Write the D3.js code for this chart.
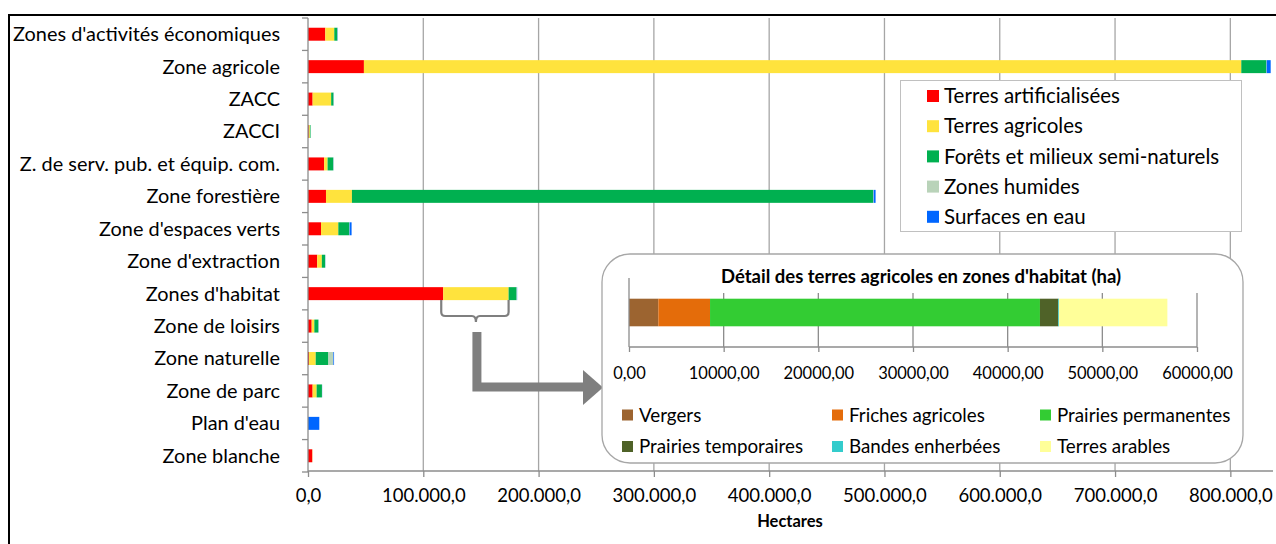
<!DOCTYPE html>
<html><head><meta charset="utf-8">
<script src="https://cdn.jsdelivr.net/npm/d3@7"></script>
<style>body{margin:0;background:#fff}svg{display:block}text{font-family:Lato,"Noto Sans",sans-serif}</style>
</head><body><svg id="c" width="1276" height="544"></svg>
<script>
const categories = ["Zones d'activités économiques","Zone agricole","ZACC","ZACCI","Z. de serv. pub. et équip. com.","Zone forestière","Zone d'espaces verts","Zone d'extraction","Zones d'habitat","Zone de loisirs","Zone naturelle","Zone de parc","Plan d'eau","Zone blanche"];
const seriesNames = ["Terres artificialisées","Terres agricoles","Forêts et milieux semi-naturels","Zones humides","Surfaces en eau"];
const terresArtificialisees = [15000,48500,4000,700,14000,15600,11300,8000,117300,3200,900,4000,0,3700];
const terresAgricoles = [7800,761000,16100,900,3000,22500,15000,4000,56700,2300,5800,3500,0,200];
const forets = [2600,21700,2000,600,4900,452000,9500,2900,6900,3500,11000,4600,0,0];
const zonesHumides = [300,300,200,0,200,500,300,0,300,0,4300,100,0,0];
const surfacesEau = [200,3500,100,0,100,1700,1700,100,200,100,600,100,9800,0];
const seriesColors = ["#ff0000","#ffe33d","#00b050","#b9d3b9","#0066ff"];
const xTicks = [0,100000,200000,300000,400000,500000,600000,700000,800000];
const xTickLabels = ["0,0","100.000,0","200.000,0","300.000,0","400.000,0","500.000,0","600.000,0","700.000,0","800.000,0"];

const insetNames = ["Vergers","Friches agricoles","Prairies permanentes","Prairies temporaires","Bandes enherbées","Terres arables"];
const insetValues = [3100,5460,34850,1940,80,11440];
const insetColors = ["#9c6430","#e46c0a","#33cc33","#4f6228","#33cccc","#ffff99"];
const insetTicks = [0,10000,20000,30000,40000,50000,60000];
const insetTickLabels = ["0,00","10000,00","20000,00","30000,00","40000,00","50000,00","60000,00"];

const svg = d3.select("#c");
const seriesVals = [terresArtificialisees,terresAgricoles,forets,zonesHumides,surfacesEau];

const x = d3.scaleLinear().domain([0,837000]).range([308,1273]);
const y = d3.scaleBand().domain(categories).range([18,472]).paddingInner(0.6).paddingOuter(0.3);

// border
svg.append("path").attr("d","M9,544V15H1276").attr("fill","none").attr("stroke","#000").attr("stroke-width",2);

// gridlines
svg.append("g").selectAll("line").data(xTicks.slice(1)).join("line")
  .attr("x1",d=>x(d)).attr("x2",d=>x(d)).attr("y1",18).attr("y2",471)
  .attr("stroke","#a6a6a6").attr("stroke-width",1.3);

// bars
const rows = categories.map((c,i)=>{const o={cat:c}; seriesNames.forEach((s,j)=>o[s]=seriesVals[j][i]); return o;});
const stack = d3.stack().keys(seriesNames)(rows);
svg.append("g").selectAll("g").data(stack).join("g").attr("fill",(d,i)=>seriesColors[i])
  .selectAll("rect").data(d=>d).join("rect")
  .attr("x",d=>x(d[0])).attr("width",d=>Math.max(0,x(d[1])-x(d[0])))
  .attr("y",d=>y(d.data.cat)).attr("height",y.bandwidth());

// y axis
const bounds = d3.range(categories.length+1).map(i=>18+i*(454/categories.length));
svg.append("line").attr("x1",308).attr("x2",308).attr("y1",18).attr("y2",472).attr("stroke","#8c8c8c").attr("stroke-width",1.3);
svg.append("g").selectAll("line").data(bounds).join("line")
  .attr("x1",302).attr("x2",308).attr("y1",d=>d).attr("y2",d=>d).attr("stroke","#8c8c8c").attr("stroke-width",1.3);
svg.append("g").selectAll("text").data(categories).join("text")
  .attr("x",280).attr("y",d=>y(d)+y.bandwidth()/2).attr("dy","0.35em").attr("text-anchor","end")
  .attr("font-size",19.9).attr("fill","#000").text(d=>d);

// x axis
const xAxis = d3.axisBottom(x).tickValues(xTicks).tickSize(6).tickFormat((d,i)=>xTickLabels[i]);
const gx = svg.append("g").attr("transform","translate(0,471)").call(xAxis);
gx.select(".domain").attr("stroke","#8c8c8c").attr("stroke-width",1.3).attr("d","M308,0H1273");
gx.selectAll(".tick line").attr("stroke","#8c8c8c").attr("stroke-width",1.3);
gx.selectAll(".tick text").attr("font-family","Lato").attr("font-size",18.5).attr("fill","#000").attr("y",31).attr("dy","0");
svg.append("text").attr("x",790).attr("y",527).attr("text-anchor","middle").attr("font-family","Liberation Sans").attr("font-weight","bold").attr("font-size",16.5).text("Hectares");

// main legend
const lg = svg.append("g");
lg.append("rect").attr("x",900.5).attr("y",80.5).attr("width",341).attr("height",151).attr("fill","#fff").attr("stroke","#c0c0c0");
seriesNames.forEach((s,i)=>{
  const cy = 96 + i*30.2;
  lg.append("rect").attr("x",927).attr("y",cy-6).attr("width",12).attr("height",12).attr("fill",seriesColors[i]);
  lg.append("text").attr("x",944).attr("y",cy).attr("dy","0.35em").attr("font-size",20.5).text(s);
});

// brace + arrow
const g0 = x(terresArtificialisees[8]), g1 = x(terresArtificialisees[8]+terresAgricoles[8]);
const bm = (g0+g1)/2;
svg.append("path").attr("d",`M${g0-2},300 V312 Q${g0-2},316 ${g0+2},316 H${bm-4} Q${bm},316 ${bm},322 Q${bm},316 ${bm+4},316 H${g1-4} Q${g1},316 ${g1},312 V300`)
  .attr("fill","none").attr("stroke","#7f7f7f").attr("stroke-width",2.2);
svg.append("path").attr("d",`M${bm+1},332 V387 H585`).attr("fill","none").attr("stroke","#7f7f7f").attr("stroke-width",9);
svg.append("path").attr("d","M583,370 L603,387.5 L583,405 Z").attr("fill","#7f7f7f");

// inset
const ig = svg.append("g");
ig.append("rect").attr("x",602).attr("y",254).attr("width",641).attr("height",209).attr("rx",28).attr("ry",28)
  .attr("fill","#fff").attr("stroke","#a6a6a6").attr("stroke-width",1.3);
ig.append("text").attr("x",921).attr("y",277).attr("dy","0.35em").attr("text-anchor","middle").attr("font-weight","bold").attr("font-size",18.5).text("Détail des terres agricoles en zones d'habitat (ha)");
const ix = d3.scaleLinear().domain([0,60000]).range([629,1197]);
const iy = d3.scaleBand().domain(["Zones d'habitat"]).range([278,347]).paddingInner(0.6).paddingOuter(0.3);
ig.append("g").selectAll("line").data(insetTicks.slice(1)).join("line")
  .attr("x1",d=>ix(d)).attr("x2",d=>ix(d)).attr("y1",293).attr("y2",347).attr("stroke","#8c8c8c").attr("stroke-width",1.3);
let acc = 0;
const iseg = insetValues.map((v,i)=>{const s={x0:acc,x1:acc+v,c:insetColors[i]}; acc+=v; return s;});
ig.append("g").selectAll("rect").data(iseg).join("rect")
  .attr("x",d=>ix(d.x0)).attr("width",d=>ix(d.x1)-ix(d.x0)).attr("y",iy("Zones d'habitat")).attr("height",iy.bandwidth()).attr("fill",d=>d.c);
ig.append("line").attr("x1",629).attr("x2",629).attr("y1",278).attr("y2",347).attr("stroke","#8c8c8c").attr("stroke-width",1.3);
const iAxis = d3.axisBottom(ix).tickValues(insetTicks).tickSize(5).tickFormat((d,i)=>insetTickLabels[i]);
const gix = ig.append("g").attr("transform","translate(0,347)").call(iAxis);
gix.select(".domain").attr("stroke","#8c8c8c").attr("stroke-width",1.3).attr("d","M629,0H1197");
gix.selectAll(".tick line").attr("stroke","#8c8c8c").attr("stroke-width",1.3);
gix.selectAll(".tick text").attr("font-family","Lato").attr("font-size",16.5).attr("fill","#000").attr("y",26).attr("dy","0.35em");
const lx = [622,832,1040];
insetNames.forEach((n,i)=>{
  const col = i%3, row = Math.floor(i/3);
  const cy = 415 + row*31.5;
  ig.append("rect").attr("x",lx[col]).attr("y",cy-5.5).attr("width",11).attr("height",11).attr("fill",insetColors[i]);
  ig.append("text").attr("x",lx[col]+17).attr("y",cy).attr("dy","0.35em").attr("font-size",18.8).text(n);
});
</script></body></html>
